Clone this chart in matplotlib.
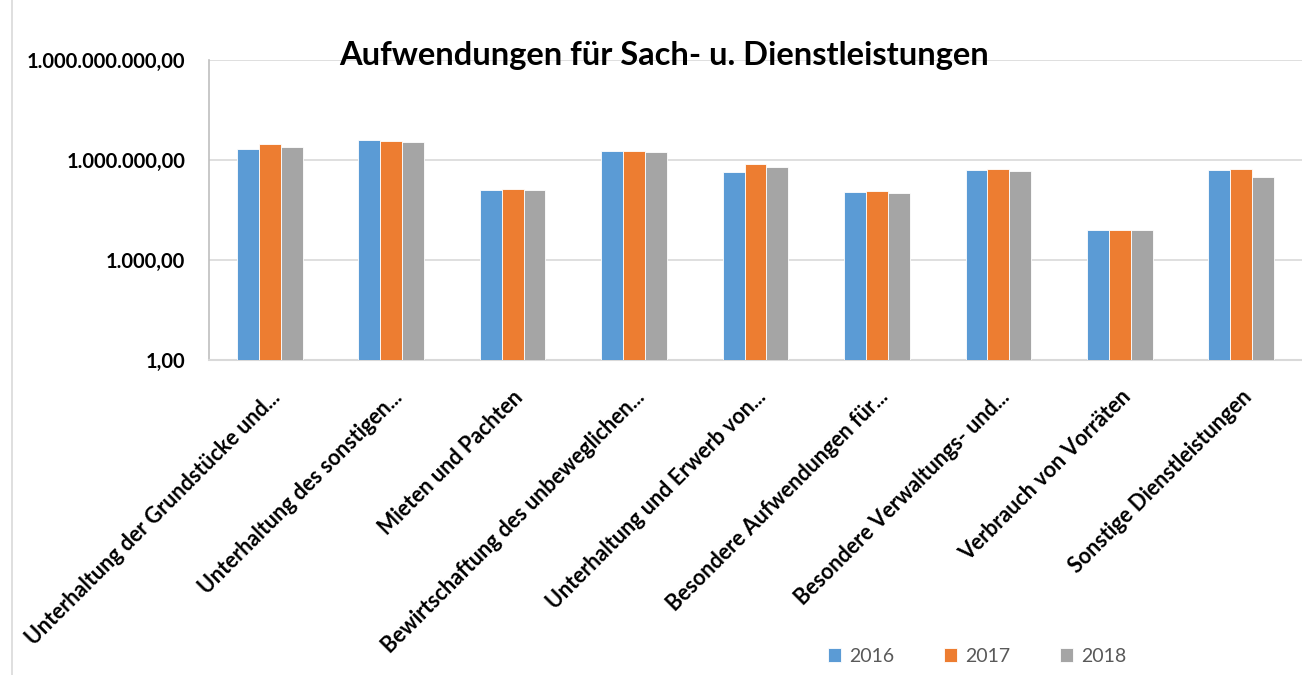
import numpy as np
import matplotlib
matplotlib.use('Agg')
import matplotlib.pyplot as plt
from matplotlib.ticker import FixedLocator, FuncFormatter, NullLocator
from matplotlib.patches import Rectangle

categories = [
    'Unterhaltung der Grundstücke und...',
    'Unterhaltung des sonstigen...',
    'Mieten und Pachten',
    'Bewirtschaftung des unbeweglichen...',
    'Unterhaltung und Erwerb von...',
    'Besondere Aufwendungen für...',
    'Besondere Verwaltungs- und...',
    'Verbrauch von Vorräten',
    'Sonstige Dienstleistungen',
]
years = ['2016', '2017', '2018']
v2016 = [2.18e6, 3.98e6, 1.23e5, 1.82e6, 4.46e5, 1.10e5, 4.91e5, 7.8e3, 5.0e5]
v2017 = [3.08e6, 3.79e6, 1.35e5, 1.86e6, 7.74e5, 1.17e5, 5.37e5, 7.8e3, 5.37e5]
v2018 = [2.45e6, 3.47e6, 1.23e5, 1.77e6, 6.17e5, 1.00e5, 4.78e5, 7.8e3, 3.03e5]
yticks = [1, 1e3, 1e6, 1e9]

colors = ['#5b9bd5', '#ed7d31', '#a5a5a5']
plt.rcParams['font.family'] = ['Lato', 'DejaVu Sans']

fig = plt.figure(figsize=(13.02, 6.75), dpi=100)
ax = fig.add_axes([209 / 1302, 1 - 360 / 675, (1302 - 209) / 1302, 300 / 675])

# chart frame
fig.patches.append(Rectangle((12 / 1302, -0.01), 1.5, 1.5, transform=fig.transFigure,
                             fill=False, edgecolor='#d9d9d9', linewidth=1.2))

x = np.arange(len(categories))
w = 0.18
for i, (vals, yr) in enumerate(zip([v2016, v2017, v2018], years)):
    ax.bar(x + (i - 1) * w, vals, width=w, bottom=1, color=colors[i], label=yr,
           edgecolor='white', linewidth=0.6, zorder=3)

ax.set_yscale('log')
ax.set_ylim(1, 1e9)
ax.set_xlim(-0.5, len(categories) - 0.5)
ax.yaxis.set_major_locator(FixedLocator(yticks))
ax.yaxis.set_minor_locator(NullLocator())


def de_fmt(v, pos):
    s = '{:,.2f}'.format(v)
    return s.replace(',', 'X').replace('.', ',').replace('X', '.')


ax.yaxis.set_major_formatter(FuncFormatter(de_fmt))
ax.grid(axis='y', color='#d9d9d9', linewidth=1.2, zorder=0)
for side in ['top', 'right']:
    ax.spines[side].set_visible(False)
ax.spines['left'].set_color('#bfbfbf')
ax.spines['bottom'].set_color('#d9d9d9')
ax.spines['left'].set_linewidth(1.2)
ax.spines['bottom'].set_linewidth(1.5)
ax.tick_params(axis='both', length=0)
ax.tick_params(axis='y', pad=17)
for lab in ax.get_yticklabels():
    lab.set_fontsize(14.5)
    lab.set_fontweight('bold')

ax.set_xticks(x)
ax.set_xticklabels(categories, rotation=45, ha='right', va='top',
                   rotation_mode='anchor', fontsize=15.5, fontweight='bold')
ax.tick_params(axis='x', pad=19)

fig.text(0.51, 1 - 55 / 675, 'Aufwendungen für Sach- u. Dienstleistungen',
         ha='center', va='center', fontsize=23.5, fontweight='bold')

leg = fig.legend(loc='center', bbox_to_anchor=(977 / 1302, 1 - 656 / 675), ncol=3,
                 frameon=False, fontsize=14, handlelength=0.7, handleheight=0.7,
                 columnspacing=2.55, handletextpad=0.4)
for t in leg.get_texts():
    t.set_color('#595959')

fig.savefig('out.png', dpi=100)
